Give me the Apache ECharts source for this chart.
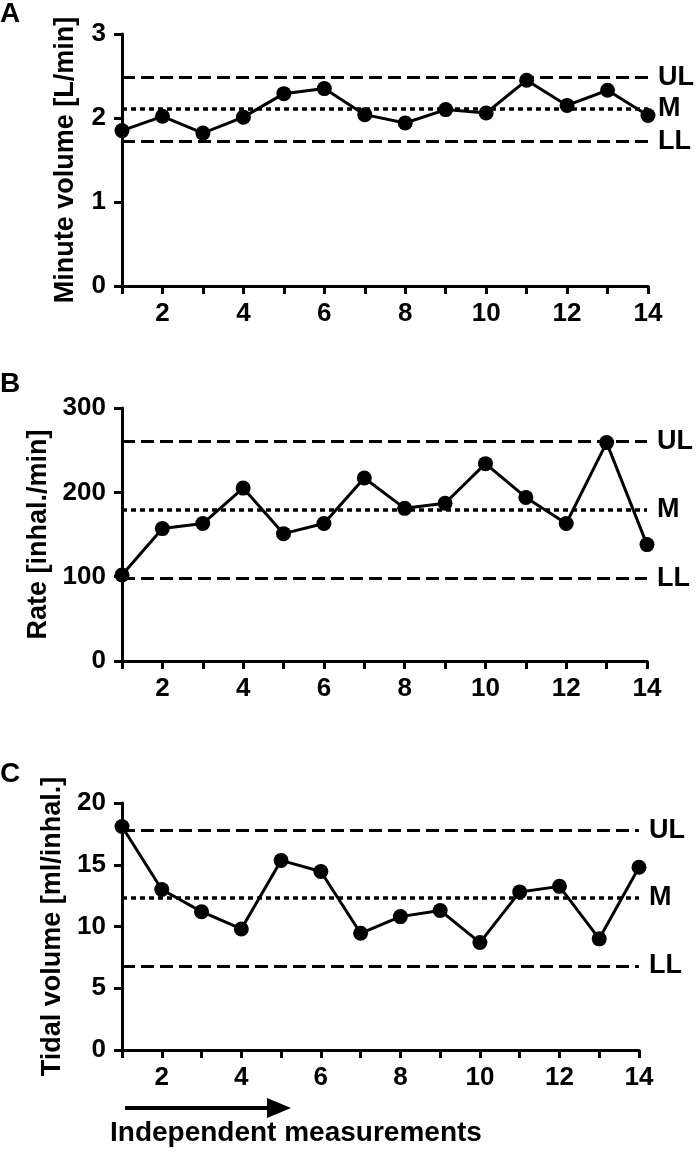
<!DOCTYPE html>
<html>
<head>
<meta charset="utf-8">
<script src="https://cdn.jsdelivr.net/npm/echarts@6/dist/echarts.min.js"></script>
<style>
html,body{margin:0;padding:0;background:#fff;}
#chart{width:700px;height:1154px;}
</style>
</head>
<body>
<div id="chart"></div>
<script>
const measurements = [1,2,3,4,5,6,7,8,9,10,11,12,13,14];
const minuteVolume = [1.85,2.02,1.82,2.01,2.29,2.35,2.04,1.94,2.10,2.06,2.45,2.15,2.33,2.03];
const rate = [102,157,163,205,151,163,217,181,187,234,194,163,259,138];
const tidalVolume = [18.1,13.0,11.2,9.8,15.35,14.45,9.45,10.8,11.3,8.7,12.8,13.25,9.0,14.8];
const limitNames = ['UL','M','LL'];
const limitsA = [2.48,2.11,1.72];
const limitsB = [260,179,98];
const limitsC = [17.8,12.35,6.8];
const yTitles = ['Minute volume [L/min]','Rate [inhal./min]','Tidal volume [ml/inhal.]'];
const panelLetters = ['A','B','C'];
const xTitle = 'Independent measurements';

const FONT = '"Liberation Sans", Arial, sans-serif';
const chart = echarts.init(document.getElementById('chart'), null, {renderer:'canvas'});

const grids = [
  {left:122, top:34, width:526, height:252},
  {left:122, top:408, width:525, height:253},
  {left:122, top:803, width:517, height:247}
];
const yCfg = [
  {min:0,max:3,interval:1},
  {min:0,max:300,interval:100},
  {min:0,max:20,interval:5}
];
const values = [minuteVolume, rate, tidalVolume];
const limits = [limitsA, limitsB, limitsC];

const axisLine = {show:true, lineStyle:{color:'#000', width:3}};
const axisTick = {show:true, inside:false, length:8, lineStyle:{color:'#000', width:3}};
const labelStyle = {color:'#000', fontFamily:FONT, fontWeight:'bold', fontSize:26};

const option = {
  animation:false,
  backgroundColor:'#fff',
  grid: grids,
  xAxis: grids.map((g,i)=>({
    type:'value', gridIndex:i, min:1, max:14, interval:1,
    axisLine:axisLine, axisTick:axisTick, splitLine:{show:false},
    axisLabel:Object.assign({margin:15, formatter:v=> (v%2===0? String(v):'')}, labelStyle)
  })),
  yAxis: grids.map((g,i)=>({
    type:'value', gridIndex:i, min:yCfg[i].min, max:yCfg[i].max, interval:yCfg[i].interval,
    axisLine:axisLine, axisTick:axisTick, splitLine:{show:false},
    axisLabel:Object.assign({margin:16}, labelStyle),
    name:yTitles[i], nameLocation:'middle', nameGap:43,
    nameTextStyle:{color:'#000', fontFamily:FONT, fontWeight:'bold', fontSize:27}
  })),
  series: values.map((vals,i)=>({
    type:'line', xAxisIndex:i, yAxisIndex:i,
    data: measurements.map((m,j)=>[m, vals[j]]),
    symbol:'circle', symbolSize:15,
    lineStyle:{color:'#000', width:3},
    itemStyle:{color:'#000'},
    z:5,
    markLine:{
      silent:true, symbol:'none', z:2,
      data: limits[i].map((v,k)=>({
        yAxis:v, name:limitNames[k],
        lineStyle:{color:'#000', width: k===1 ? 3.5 : 3, type: k===1 ? [5,4] : [13,6]}
      })),
      label:{show:true, position:'end', distance:10, formatter:p=>p.name,
        color:'#000', fontFamily:FONT, fontWeight:'bold', fontSize:27}
    }
  })),
  graphic: [
    ...panelLetters.map((t,i)=>({
      type:'text', left:0, top:[0,370,760][i],
      style:{text:t, fill:'#000', font:'bold 28px ' + FONT}
    })),
    {type:'line', shape:{x1:125, y1:1108, x2:272, y2:1108}, style:{stroke:'#000', lineWidth:4}},
    {type:'polygon', shape:{points:[[267,1098],[291,1108],[267,1118]]}, style:{fill:'#000'}},
    {type:'text', left:110, top:1119, style:{text:xTitle, fill:'#000', font:'bold 28px ' + FONT}}
  ]
};
chart.setOption(option);
</script>
</body>
</html>
